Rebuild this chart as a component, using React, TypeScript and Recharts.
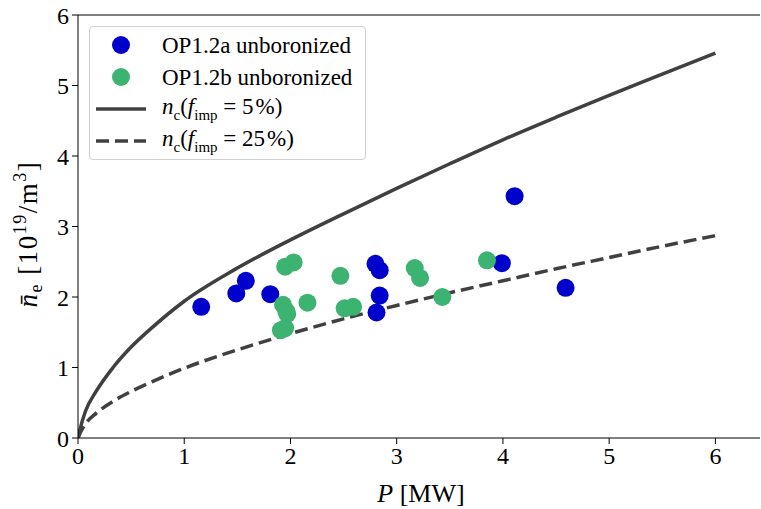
import React from "react";
import {
  ComposedChart,
  Scatter,
  Line,
  XAxis,
  YAxis,
  ReferenceLine,
  Label,
} from "recharts";

// measured points (P in MW, density in 1e19/m^3)
const blueP = [1.16, 1.49, 1.58, 1.81, 2.8, 2.84, 2.84, 2.81, 3.99, 4.11, 4.59];
const blueN = [1.86, 2.05, 2.23, 2.04, 2.47, 2.38, 2.02, 1.78, 2.48, 3.43, 2.13];

const greenP = [1.95, 2.03, 2.47, 1.93, 1.96, 1.97, 1.91, 1.95, 2.16, 2.51, 2.59, 3.17, 3.22, 3.43, 3.85];
const greenN = [2.43, 2.49, 2.3, 1.89, 1.8, 1.76, 1.53, 1.56, 1.92, 1.84, 1.86, 2.41, 2.27, 2.0, 2.52];

// density limit curves
const curveP = [0, 0.02, 0.07, 0.17, 0.33, 0.5, 0.7, 1, 1.5, 2, 2.5, 3, 3.5, 4, 4.5, 5, 5.5, 6];
const limit5 = [0, 0.13, 0.38, 0.66, 1.0, 1.29, 1.57, 1.94, 2.41, 2.81, 3.18, 3.54, 3.89, 4.23, 4.55, 4.86, 5.16, 5.46];
const limit25 = [0, 0.07, 0.2, 0.35, 0.52, 0.66, 0.8, 0.99, 1.25, 1.48, 1.69, 1.88, 2.06, 2.23, 2.4, 2.56, 2.72, 2.87];

const xTicks = [0, 1, 2, 3, 4, 5, 6];
const yTicks = [0, 1, 2, 3, 4, 5, 6];

const blueData = blueP.map((P, i) => ({ P, n: blueN[i] }));
const greenData = greenP.map((P, i) => ({ P, n: greenN[i] }));
const solidData = curveP.map((P, i) => ({ P, n: limit5[i] }));
const dashedData = curveP.map((P, i) => ({ P, n: limit25[i] }));

const BLUE = "#0000cd";
const GREEN = "#3cb371";
const GREY = "#404040";
const FONT = "Liberation Serif, DejaVu Serif, serif";

const dot = (color: string) => (props: any) =>
  <circle cx={props.cx} cy={props.cy} r={9} fill={color} />;

const NcLabel = ({ pct }: { pct: string }) => (
  <span>
    <i>n</i>
    <sub style={{ fontSize: 15 }}>c</sub>(<i>f</i>
    <sub style={{ fontSize: 15 }}>imp</sub> = {pct}&#8202;%)
  </span>
);

const LegendBox = () => {
  const row: React.CSSProperties = {
    display: "flex",
    alignItems: "center",
    height: 32,
    whiteSpace: "nowrap",
  };
  const mark: React.CSSProperties = {
    width: 50,
    marginLeft: 6,
    marginRight: 16,
    display: "flex",
    justifyContent: "center",
  };
  return (
    <div
      style={{
        position: "absolute",
        left: 89,
        top: 26,
        border: "1px solid #d0d0d0",
        borderRadius: 4,
        background: "#fff",
        width: 275,
        padding: "2px 0",
        fontFamily: FONT,
        fontSize: 23,
        color: "#000",
        lineHeight: 1,
      }}
    >
      <div style={row}>
        <div style={mark}>
          <svg width={20} height={20}>
            <circle cx={10} cy={10} r={9} fill={BLUE} />
          </svg>
        </div>
        <span>OP1.2a unboronized</span>
      </div>
      <div style={row}>
        <div style={mark}>
          <svg width={20} height={20}>
            <circle cx={10} cy={10} r={9} fill={GREEN} />
          </svg>
        </div>
        <span>OP1.2b unboronized</span>
      </div>
      <div style={row}>
        <div style={mark}>
          <svg width={50} height={6}>
            <line x1={0} y1={3} x2={50} y2={3} stroke={GREY} strokeWidth={3.5} />
          </svg>
        </div>
        <NcLabel pct="5" />
      </div>
      <div style={row}>
        <div style={mark}>
          <svg width={50} height={6}>
            <line x1={0} y1={3} x2={50} y2={3} stroke={GREY} strokeWidth={3.5} strokeDasharray="13 6" />
          </svg>
        </div>
        <NcLabel pct="25" />
      </div>
    </div>
  );
};

const XTitle = () => (
  <text x={421} y={502} textAnchor="middle" fontFamily={FONT} fontSize={26} fill="#000">
    <tspan fontStyle="italic">P</tspan>
    <tspan> [MW]</tspan>
  </text>
);

const YTitle = () => (
  <text
    x={0}
    y={0}
    transform="translate(37 234) rotate(-90)"
    textAnchor="middle"
    fontFamily={FONT}
    fontSize={27}
    letterSpacing={1.5}
    fill="#000"
  >
    <tspan fontStyle="italic">{"n\u0304"}</tspan>
    <tspan fontSize={18} dy={5}>e</tspan>
    <tspan dy={-5}> [10</tspan>
    <tspan fontSize={18} dy={-11}>19</tspan>
    <tspan dy={11}>/m</tspan>
    <tspan fontSize={18} dy={-11}>3</tspan>
    <tspan dy={11}>]</tspan>
  </text>
);

export default function App() {
  return (
    <div style={{ position: "absolute", left: 0, top: 0, width: 761, height: 509, background: "#fff" }}>
      <ComposedChart
        width={761}
        height={509}
        margin={{ top: 15, right: 1, bottom: 0, left: 0 }}
      >
        <XAxis
          type="number"
          dataKey="P"
          domain={[0, 6.42]}
          ticks={xTicks}
          allowDataOverflow
          height={71}
          tickSize={6}
          tickMargin={3}
          stroke="#000"
          tickLine={{ stroke: "#000" }}
          tick={{ fontSize: 24, fontFamily: FONT, fill: "#000" }}
        >
          <Label content={<XTitle />} />
        </XAxis>
        <YAxis
          type="number"
          dataKey="n"
          domain={[0, 6]}
          ticks={yTicks}
          allowDataOverflow
          width={78}
          tickSize={6}
          tickMargin={3}
          stroke="#000"
          tickLine={{ stroke: "#000" }}
          tick={{ fontSize: 24, fontFamily: FONT, fill: "#000" }}
        >
          <Label content={<YTitle />} />
        </YAxis>
        <ReferenceLine y={6} stroke="#000" strokeWidth={1} />
        <Scatter
          name="OP1.2a unboronized"
          data={blueData}
          dataKey="n"
          fill={BLUE}
          shape={dot(BLUE)}
          isAnimationActive={false}
        />
        <Scatter
          name="OP1.2b unboronized"
          data={greenData}
          dataKey="n"
          fill={GREEN}
          shape={dot(GREEN)}
          isAnimationActive={false}
        />
        <Line
          data={solidData}
          dataKey="n"
          type="monotone"
          stroke={GREY}
          strokeWidth={3.5}
          dot={false}
          activeDot={false}
          isAnimationActive={false}
        />
        <Line
          data={dashedData}
          dataKey="n"
          type="monotone"
          stroke={GREY}
          strokeWidth={3.5}
          strokeDasharray="13 6"
          dot={false}
          activeDot={false}
          isAnimationActive={false}
        />
      </ComposedChart>
      <LegendBox />
    </div>
  );
}
